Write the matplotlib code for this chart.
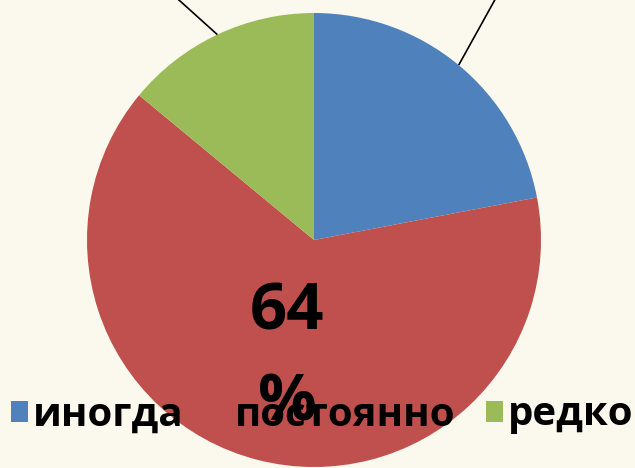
import numpy as np
import matplotlib.pyplot as plt

# data
labels = ['иногда', 'постоянно', 'редко']
values = [22, 64, 14]
colors = ['#4F81BD', '#C0504D', '#9BBB59']
# leader line direction (deg) for the slices whose labels sit above the crop
leader_dirs = {0: 61, 2: 138}

W, H = 635, 468
cx, cy, R = 314, 240, 227  # pie centre / radius in pixels

fig = plt.figure(figsize=(W / 100, H / 100), dpi=100)
fig.patch.set_facecolor('#FBF8EE')
ax = fig.add_axes([0, 0, 1, 1])

wedges, _ = ax.pie(values, colors=colors, startangle=90, counterclock=False,
                   wedgeprops=dict(linewidth=0))
ax.set_xlim(-cx / R, (W - cx) / R)
ax.set_ylim(-(H - cy) / R, cy / R)
ax.set_aspect('equal')
ax.axis('off')

# leader lines going off the top of the picture
for i, d in leader_dirs.items():
    w = wedges[i]
    mid = np.deg2rad((w.theta1 + w.theta2) / 2)
    x0, y0 = np.cos(mid), np.sin(mid)
    dr = np.deg2rad(d)
    ax.plot([x0, x0 + np.cos(dr)], [y0, y0 + np.sin(dr)], color='black', lw=1.2,
            solid_capstyle='butt')

# label of the big slice (wrapped like the original)
w = wedges[1]
mid = np.deg2rad((w.theta1 + w.theta2) / 2)
ax.text(0.54 * np.cos(mid) + 0.015, 0.54 * np.sin(mid), f'{values[1]}\n%',
        ha='center', va='center', multialignment='center', linespacing=1.52,
        fontsize=47, fontweight='bold', family='Open Sans', color='black')

ax.legend(wedges, labels, loc='center', bbox_to_anchor=(322 / W, 1 - 415 / H),
          bbox_transform=fig.transFigure, ncol=3, frameon=False,
          prop=dict(family='Open Sans', weight='bold', size=29),
          handlelength=0.42, handleheight=0.42, handletextpad=0.12,
          columnspacing=0.75, borderpad=0, borderaxespad=0)

fig.savefig('out.png', dpi=100, facecolor=fig.get_facecolor())
